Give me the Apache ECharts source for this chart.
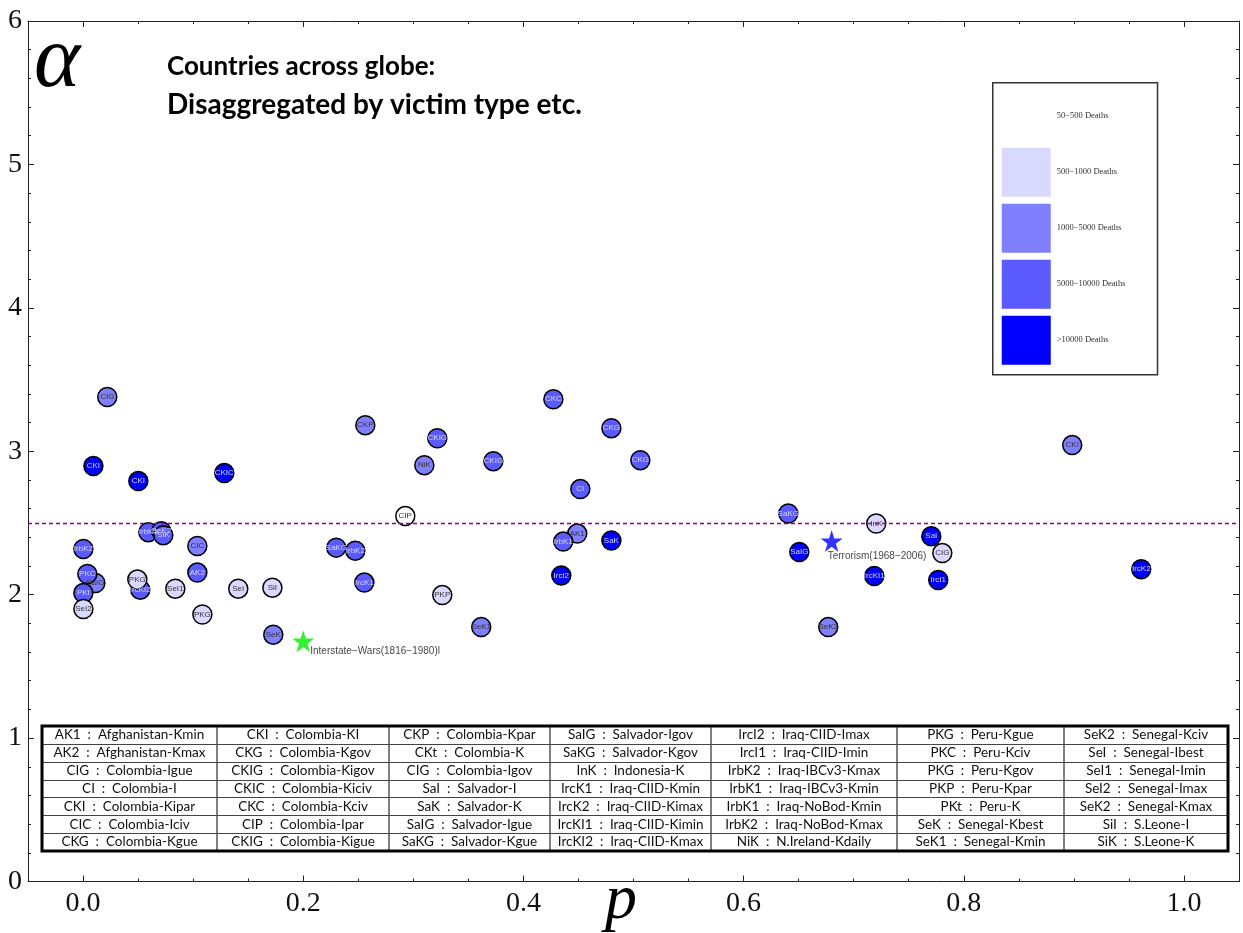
<!DOCTYPE html>
<html><head><meta charset="utf-8">
<script src="https://cdn.jsdelivr.net/npm/echarts@6/dist/echarts.min.js"></script>
<style>html,body{margin:0;padding:0;background:#fff}#c{width:1243px;height:933px}</style>
</head><body><div id="c"></div>
<script>
// ---------- data ----------
const codes = ['CIG','CKI','CKI','CKIC','IrbK2','SaIG','PKC','PKt','SeI2','IrbK1','SeK2','SiK','CIC','IrcKI2','PKG','SeI1','AK2','PKG','SeI','SiI','SeK',
  'CKP','CKIG','NiK','CKIG','CKC','CKG','CKG','CI','CIP','AK1','IrbK1','SaK','SaKG','IrbK2','IrcK1','IrcI2','PKP','SeK1',
  'SaKG','InK','SaIG','IrcKI1','SeK2','CKI','SaI','CIG','IrcI1','IrcK2'];
const pValues = [0.022,0.0094,0.0502,0.1283,0.0003,0.0112,0.0039,0.0003,0.0003,0.0593,0.0711,0.0729,0.1038,0.052,0.0493,0.0838,0.1038,0.1084,0.141,0.172,0.1728,
  0.2564,0.3218,0.310,0.3727,0.4272,0.4799,0.5062,0.4517,0.2927,0.4489,0.4362,0.4799,0.230,0.2473,0.2555,0.4344,0.3263,0.3617,
  0.6406,0.7205,0.6506,0.7187,0.6769,0.8985,0.7705,0.7805,0.7768,0.9612];
const alphaValues = [3.378,2.897,2.792,2.848,2.318,2.081,2.144,2.011,1.900,2.436,2.443,2.415,2.339,2.035,2.105,2.042,2.154,1.862,2.042,2.049,1.721,
  3.182,3.091,2.903,2.931,3.363,3.161,2.938,2.736,2.548,2.426,2.370,2.377,2.328,2.307,2.084,2.133,1.997,1.774,
  2.566,2.496,2.297,2.130,1.774,3.043,2.408,2.290,2.102,2.178];
// death class: 0 = 50-500, 1 = 500-1000, 2 = 1000-5000, 3 = 5000-10000, 4 = >10000
const deathLevel = [2,4,4,4,3,2,3,3,1,3,3,3,2,3,1,1,3,1,1,1,2,
  2,3,2,3,3,3,3,3,0,2,3,4,3,3,3,4,1,2,
  3,1,4,4,2,2,4,1,4,4];
const levelLabels = ['50\u2212500 Deaths','500\u22121000 Deaths','1000\u22125000 Deaths','5000\u221210000 Deaths','>10000 Deaths'];
const levelColors = ['#ffffff','#d9d9ff','#8080ff','#5a5aff','#0000ff'];

const starNames = ['Interstate\u2212Wars(1816\u22121980)l','Terrorism(1968\u22122006)'];
const starP = [0.200, 0.680];
const starAlpha = [1.676, 2.374];
const refAlpha = 2.5;

const xTickValues = [0, 0.2, 0.4, 0.6, 0.8, 1.0];
const xTickLabels = ['0.0','0.2','0.4','0.6','0.8','1.0'];
const yTickLabels = ['0','1','2','3','4','5','6'];
const titleLines = ['Countries across globe:','Disaggregated by victim type etc.'];

const tableCodes = [
  ['AK1','AK2','CIG','CI','CKI','CIC','CKG'],
  ['CKI','CKG','CKIG','CKIC','CKC','CIP','CKIG'],
  ['CKP','CKt','CIG','SaI','SaK','SaIG','SaKG'],
  ['SaIG','SaKG','InK','IrcK1','IrcK2','IrcKI1','IrcKI2'],
  ['IrcI2','IrcI1','IrbK2','IrbK1','IrbK1','IrbK2','NiK'],
  ['PKG','PKC','PKG','PKP','PKt','SeK','SeK1'],
  ['SeK2','SeI','SeI1','SeI2','SeK2','SiI','SiK']
];
const tableNames = [
  ['Afghanistan-Kmin','Afghanistan-Kmax','Colombia-Igue','Colombia-I','Colombia-Kipar','Colombia-Iciv','Colombia-Kgue'],
  ['Colombia-KI','Colombia-Kgov','Colombia-Kigov','Colombia-Kiciv','Colombia-Kciv','Colombia-Ipar','Colombia-Kigue'],
  ['Colombia-Kpar','Colombia-K','Colombia-Igov','Salvador-I','Salvador-K','Salvador-Igue','Salvador-Kgue'],
  ['Salvador-Igov','Salvador-Kgov','Indonesia-K','Iraq-CIID-Kmin','Iraq-CIID-Kimax','Iraq-CIID-Kimin','Iraq-CIID-Kmax'],
  ['Iraq-CIID-Imax','Iraq-CIID-Imin','Iraq-IBCv3-Kmax','Iraq-IBCv3-Kmin','Iraq-NoBod-Kmin','Iraq-NoBod-Kmax','N.Ireland-Kdaily'],
  ['Peru-Kgue','Peru-Kciv','Peru-Kgov','Peru-Kpar','Peru-K','Senegal-Kbest','Senegal-Kmin'],
  ['Senegal-Kciv','Senegal-Ibest','Senegal-Imin','Senegal-Imax','Senegal-Kmax','S.Leone-I','S.Leone-K']
];

// ---------- chart ----------
const chart = echarts.init(document.getElementById('c'), null, {renderer:'canvas'});
const frameColor = '#222';
const starPath = 'path://M0,-1 L0.2245,-0.309 L0.951,-0.309 L0.363,0.118 L0.588,0.809 L0,0.382 L-0.588,0.809 L-0.363,0.118 L-0.951,-0.309 L-0.2245,-0.309 Z';

const xMinor = [];
for (let k = 1; k <= 20; k++) { if (k % 4 !== 0) xMinor.push(k * 0.05); }

const xBase = {type:'value', min:-0.05, max:1.05, splitLine:{show:false}, axisLabel:{show:false},
  axisTick:{show:false}, axisLine:{show:false, onZero:false}};
const majorTick = {show:true, inside:true, length:6, customValues:xTickValues, lineStyle:{color:frameColor, width:1}};
const minorTickX = {show:true, inside:true, length:3, customValues:xMinor, lineStyle:{color:frameColor, width:1}};
const lineOn = {show:true, onZero:false, lineStyle:{color:frameColor, width:1}};

const pointData = codes.map((c, i) => ({
  name: c,
  value: [pValues[i], alphaValues[i], deathLevel[i]],
  label: {color: deathLevel[i] >= 3 ? '#d8d8ff' : '#333'}
}));

// table graphic
const tblTop = 726, tblBottom = 851;
const colEdges = [42, 217, 389, 550, 711, 897, 1064, 1228];
const rowH = (tblBottom - tblTop) / 7;
const tableEls = [];
for (let c = 1; c < 7; c++) {
  tableEls.push({type:'line', shape:{x1:colEdges[c], y1:tblTop, x2:colEdges[c], y2:tblBottom}, style:{stroke:'#000', lineWidth:1}});
}
for (let r = 1; r < 7; r++) {
  const y = Math.round(tblTop + r * rowH) + 0.5;
  tableEls.push({type:'line', shape:{x1:colEdges[0], y1:y, x2:colEdges[7], y2:y}, style:{stroke:'#444', lineWidth:1}});
}
tableCodes.forEach((col, c) => {
  col.forEach((code, r) => {
    tableEls.push({type:'text', x:(colEdges[c] + colEdges[c+1]) / 2, y: tblTop + (r + 0.5) * rowH,
      style:{text: code + '  :  ' + tableNames[c][r], font:'13.5px Lato', fill:'#111',
        align:'center', verticalAlign:'middle', textAlign:'center', textVerticalAlign:'middle'}});
  });
});
tableEls.push({type:'rect', shape:{x:colEdges[0], y:tblTop, width:colEdges[7]-colEdges[0], height:tblBottom-tblTop},
  style:{fill:'none', stroke:'#000', lineWidth:3}});

chart.setOption({
  animation:false,
  backgroundColor:'#fff',
  grid:{left:28, right:4, top:21, bottom:51.5, containLabel:false, outerBoundsMode:'none'},
  xAxis:[
    Object.assign({}, xBase, {position:'bottom', axisLine:lineOn, axisTick:majorTick,
      axisLabel:{show:true, customValues:xTickValues, formatter:(v)=>{const i = xTickValues.findIndex(t=>Math.abs(t-v)<1e-9); return i>=0 ? xTickLabels[i] : v.toFixed(1);},
        margin:8, fontFamily:'Liberation Serif', fontSize:28, color:'#111'}}),
    Object.assign({}, xBase, {position:'bottom', axisTick:minorTickX}),
    Object.assign({}, xBase, {position:'top', axisLine:lineOn, axisTick:majorTick}),
    Object.assign({}, xBase, {position:'top', axisTick:minorTickX})
  ],
  yAxis:[
    {type:'value', min:0, max:6, interval:1, position:'left', axisLine:lineOn,
      axisTick:{show:true, inside:true, length:6, lineStyle:{color:frameColor}},
      minorTick:{show:true, splitNumber:5, length:3, lineStyle:{color:frameColor}},
      splitLine:{show:false}, minorSplitLine:{show:false},
      axisLabel:{formatter:(v)=>yTickLabels[Math.round(v)], margin:6, fontFamily:'Liberation Serif', fontSize:28, color:'#111'}},
    {type:'value', min:0, max:6, interval:1, position:'right', axisLine:lineOn,
      axisTick:{show:true, inside:true, length:6, lineStyle:{color:frameColor}},
      minorTick:{show:true, splitNumber:5, length:3, lineStyle:{color:frameColor}},
      splitLine:{show:false}, minorSplitLine:{show:false}, axisLabel:{show:false}}
  ],
  visualMap:{
    type:'piecewise', seriesIndex:0, dimension:2, orient:'vertical', inverse:true, align:'left',
    pieces: levelLabels.map((l, i) => ({value:i, label:l, color:levelColors[i]})),
    left:992, top:82, itemWidth:49, itemHeight:49, itemGap:7, textGap:6, itemSymbol:'rect',
    padding:[9,32,10,9], borderColor:'#333', borderWidth:1.5, backgroundColor:'#fff',
    selectedMode:false, hoverLink:false,
    textStyle:{fontFamily:'Liberation Serif', fontSize:8.5, color:'#333'}
  },
  series:[
    {type:'scatter', xAxisIndex:0, yAxisIndex:0, data:pointData, symbol:'circle', symbolSize:19, z:3,
      itemStyle:{borderColor:'#000', borderWidth:1.5, opacity:1},
      label:{show:true, position:'inside', formatter:'{b}', fontSize:8, fontFamily:'Liberation Sans'},
      emphasis:{disabled:true}
    },
    {type:'scatter', xAxisIndex:0, yAxisIndex:0, data:[{name:starNames[0], value:[starP[0], starAlpha[0]]}], z:4,
      symbol:starPath, symbolSize:22, itemStyle:{color:'#00ee00'}, emphasis:{disabled:true},
      label:{show:true, position:'right', distance:0, offset:[-4,10], formatter:'{b}', fontSize:10, fontFamily:'Liberation Sans', color:'#111'},
      markLine:{silent:true, symbol:'none', label:{show:false}, z:5,
        lineStyle:{color:'#8b008b', type:[4,3], width:1.4, opacity:1}, emphasis:{disabled:true}, data:[{yAxis:refAlpha}]}
    },
    {type:'scatter', xAxisIndex:0, yAxisIndex:0, data:[{name:starNames[1], value:[starP[1], starAlpha[1]]}], z:4,
      symbol:starPath, symbolSize:22, itemStyle:{color:'#0000ff'}, emphasis:{disabled:true},
      label:{show:true, position:'right', distance:0, offset:[-15,15], formatter:'{b}', fontSize:10, fontFamily:'Liberation Sans', color:'#111'}}
  ],
  graphic:[
    {type:'text', x:34, y:63, style:{text:'\u03b1', font:'italic 88px "Liberation Serif"', fill:'#000', verticalAlign:'middle', textVerticalAlign:'middle'}},
    {type:'text', x:167, y:67, style:{text:titleLines[0], font:'bold 26px Lato', fill:'#000', verticalAlign:'middle', textVerticalAlign:'middle'}},
    {type:'text', x:167, y:105, style:{text:titleLines[1], font:'bold 28px Lato', fill:'#000', verticalAlign:'middle', textVerticalAlign:'middle'}},
    {type:'text', x:621, y:901, style:{text:'p', font:'italic 64px "Liberation Serif"', fill:'#000', align:'center', textAlign:'center', verticalAlign:'middle', textVerticalAlign:'middle'}},
    {type:'group', children: tableEls}
  ]
});
</script></body></html>
